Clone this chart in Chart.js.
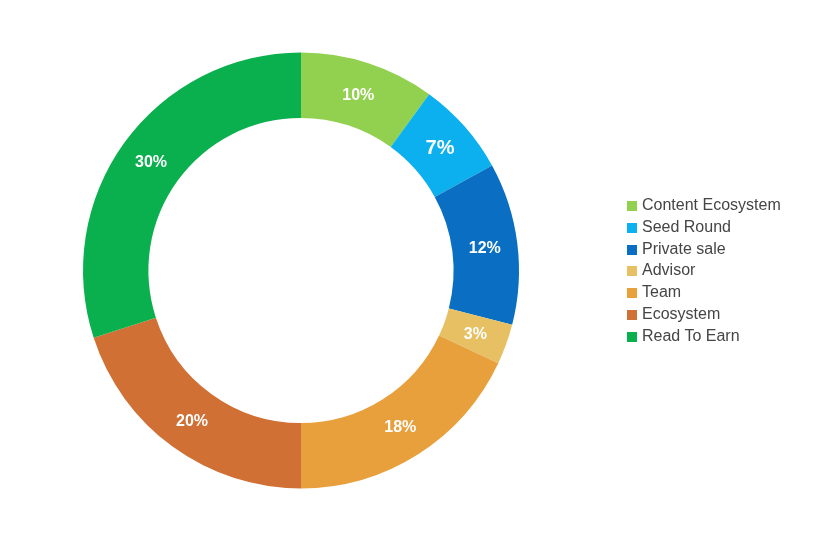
<!DOCTYPE html>
<html>
<head>
<meta charset="utf-8">
<script src="https://cdn.jsdelivr.net/npm/chart.js@4"></script>
<style>
  body { margin: 0; background: #fff; }
  #wrap { position: relative; width: 840px; height: 560px; }
  #legend { position: absolute; left: 627px; top: 194px; margin: 0; padding: 0; list-style: none;
            font-family: "Liberation Sans", Arial, sans-serif; font-size: 16px; color: #454545; }
  #legend li { height: 21.8px; line-height: 21.8px; white-space: nowrap; }
  #legend span { display: inline-block; width: 10px; height: 10px; margin-right: 5px; vertical-align: -1px; }
</style>
</head>
<body>
<div id="wrap">
  <canvas id="tokenChart" width="840" height="560"></canvas>
  <ul id="legend"></ul>
</div>
<script>
const labels = ['Content Ecosystem', 'Seed Round', 'Private sale', 'Advisor', 'Team', 'Ecosystem', 'Read To Earn'];
const shares = [10, 7, 12, 3, 18, 20, 30];
const colors = ['#92D050', '#0DB0EF', '#0A6FC2', '#E8C064', '#E8A03C', '#D07034', '#0BB04E'];

// label font size per slice (the Seed Round one is drawn larger)
const labelFontSizes = [16, 20, 16, 16, 16, 16, 16];

const percentLabels = {
    id: 'percentLabels',
    afterDatasetsDraw(chart) {
        const ctx = chart.ctx;
        const meta = chart.getDatasetMeta(0);
        meta.data.forEach(function(arc, i) {
            const p = arc.getCenterPoint();
            ctx.save();
            ctx.fillStyle = '#ffffff';
            ctx.font = 'bold ' + labelFontSizes[i] + 'px "Liberation Sans", Arial, sans-serif';
            ctx.textAlign = 'center';
            ctx.textBaseline = 'middle';
            ctx.fillText(shares[i] + '%', p.x, p.y + 1);
            ctx.restore();
        });
    }
};

const ctx = document.getElementById('tokenChart').getContext('2d');
new Chart(ctx, {
    type: 'doughnut',
    data: {
        labels: labels,
        datasets: [{
            data: shares,
            backgroundColor: colors,
            borderWidth: 0
        }]
    },
    options: {
        responsive: false,
        animation: false,
        cutout: '70%',
        layout: {
            padding: { left: 83, right: 321, top: 52, bottom: 71 }
        },
        plugins: {
            legend: { display: false },
            tooltip: { enabled: false }
        }
    },
    plugins: [percentLabels]
});

// legend built from the same arrays
const legendEl = document.getElementById('legend');
labels.forEach(function(name, i) {
    const li = document.createElement('li');
    const box = document.createElement('span');
    box.style.background = colors[i];
    li.appendChild(box);
    li.appendChild(document.createTextNode(name));
    legendEl.appendChild(li);
});
</script>
</body>
</html>
